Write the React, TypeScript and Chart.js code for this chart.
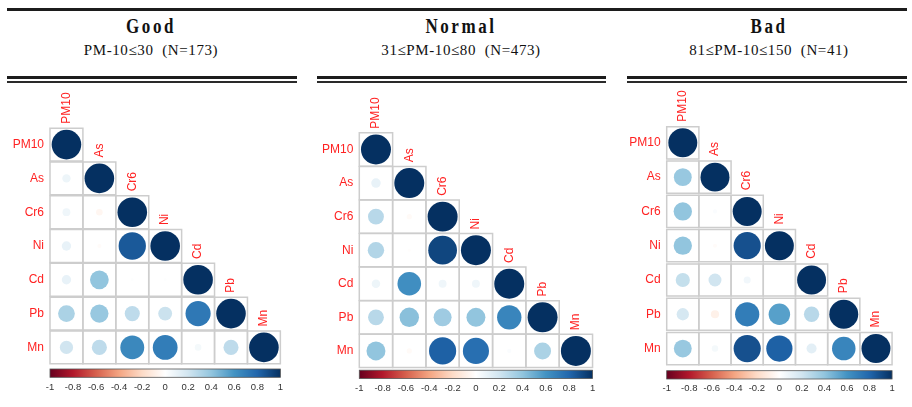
import React, { useEffect, useRef } from 'react';
import { Chart, registerables } from 'chart.js';

Chart.register(...registerables);

// ---------- data ----------
const VARIABLES = ['PM10', 'As', 'Cr6', 'Ni', 'Cd', 'Pb', 'Mn'];

// lower-triangle correlations, rows As..Mn, columns PM10..(row-1)
const GOOD_CORR = [
  [0.08],
  [0.07, -0.05],
  [0.1, -0.02, 0.85],
  [0.1, 0.4, 0.01, 0.01],
  [0.32, 0.38, 0.26, 0.22, 0.72],
  [0.2, 0.26, 0.65, 0.7, 0.05, 0.26],
];
const NORMAL_CORR = [
  [0.1],
  [0.28, -0.03],
  [0.3, -0.01, 0.92],
  [0.08, 0.62, 0.07, 0.07],
  [0.28, 0.42, 0.36, 0.4, 0.66],
  [0.4, -0.03, 0.82, 0.76, 0.02, 0.32],
];
const BAD_CORR = [
  [0.38],
  [0.4, 0.02],
  [0.4, -0.02, 0.88],
  [0.24, 0.2, 0.06, 0.0],
  [0.18, -0.08, 0.7, 0.55, 0.28],
  [0.38, 0.05, 0.88, 0.82, 0.12, 0.66],
];

const PANEL_TITLES = ['Good', 'Normal', 'Bad'];
const PANEL_SUBTITLES = ['PM-10≤30  (N=173)', '31≤PM-10≤80  (N=473)', '81≤PM-10≤150  (N=41)'];
const PANEL_DATA = [GOOD_CORR, NORMAL_CORR, BAD_CORR];

const COLORBAR_TICKS = [-1, -0.8, -0.6, -0.4, -0.2, 0, 0.2, 0.4, 0.6, 0.8, 1];
const COLORBAR_LABELS = ['-1', '-0.8', '-0.6', '-0.4', '-0.2', '0', '0.2', '0.4', '0.6', '0.8', '1'];

// ---------- styles / layout ----------
const RDBU = ['#67001F', '#B2182B', '#D6604D', '#F4A582', '#FDDBC7', '#FFFFFF', '#D1E5F0', '#92C5DE', '#4393C3', '#2166AC', '#053061'];
const LABEL_RED = '#ff2222';
const SANS = '"Liberation Sans", Arial, sans-serif';
const SERIF = '"Liberation Serif", "Times New Roman", serif';
const CANVAS_TOP = 85;
const CANVAS_HEIGHT = 322;

const PANEL_LAYOUT = [
  { left: 0, width: 300, gridLeft: 50, gridRight: 291, gridTop: 127.7, gridBottom: 364.3, barGap: 4.7, lineLeft: 7, lineRight: 297, titleCenter: 151 },
  { left: 305, width: 305, gridLeft: 359.3, gridRight: 601, gridTop: 132.7, gridBottom: 367.7, barGap: 2.5, lineLeft: 317, lineRight: 606, titleCenter: 461 },
  { left: 612, width: 300, gridLeft: 666.7, gridRight: 909.3, gridTop: 125.7, gridBottom: 365.7, barGap: 5, lineLeft: 627, lineRight: 907, titleCenter: 769 },
];

function hexToRgb(h: string) {
  const n = parseInt(h.slice(1), 16);
  return [(n >> 16) & 255, (n >> 8) & 255, n & 255];
}
function corrColor(v: number) {
  const t = ((v + 1) / 2) * (RDBU.length - 1);
  const i = Math.max(0, Math.min(RDBU.length - 2, Math.floor(t)));
  const f = t - i;
  const a = hexToRgb(RDBU[i]);
  const b = hexToRgb(RDBU[i + 1]);
  const c = a.map((x, k) => Math.round(x + (b[k] - x) * f));
  return `rgb(${c[0]},${c[1]},${c[2]})`;
}

function CorrPanel({ corr, layout }: { corr: number[][]; layout: any }) {
  const ref = useRef<HTMLCanvasElement>(null);
  useEffect(() => {
    const n = VARIABLES.length;
    const circles: any[] = [];
    const cells: any[] = [];
    for (let i = 0; i < n; i++) {
      for (let j = 0; j <= i; j++) {
        const v = i === j ? 1 : corr[i - 1][j];
        circles.push({ x: VARIABLES[j], y: VARIABLES[i], v });
        cells.push({ x: VARIABLES[j], y: VARIABLES[i] });
      }
    }
    const cellSize = (c: any) => {
      const a = c.chart.chartArea;
      if (!a) return { w: 0, h: 0 };
      return { w: (a.right - a.left) / n, h: (a.bottom - a.top) / n };
    };
    const barGap = layout.barGap;
    const barH = 8.3;

    const decor = {
      id: 'decor',
      afterDraw(chart: any) {
        const ctx = chart.ctx;
        const cb = chart.scales.cb;
        const xs = chart.scales.x;
        const ys = chart.scales.y;
        const top = chart.chartArea.bottom + barGap;
        ctx.save();
        const grad = ctx.createLinearGradient(cb.left, 0, cb.right, 0);
        RDBU.forEach((c, i) => grad.addColorStop(i / (RDBU.length - 1), c));
        ctx.fillStyle = grad;
        ctx.fillRect(cb.left, top, cb.right - cb.left, barH);
        ctx.strokeStyle = '#555';
        ctx.lineWidth = 0.8;
        ctx.strokeRect(cb.left, top, cb.right - cb.left, barH);
        const ch = (ys.bottom - ys.top) / n;
        ctx.fillStyle = LABEL_RED;
        ctx.font = `12px ${SANS}`;
        ctx.textAlign = 'left';
        ctx.textBaseline = 'middle';
        VARIABLES.forEach((lab, j) => {
          const x = xs.getPixelForValue(j);
          const y = ys.getPixelForValue(j) - ch / 2 - 4;
          ctx.save();
          ctx.translate(x, y);
          ctx.rotate(-Math.PI / 2);
          ctx.fillText(lab, 0, 0);
          ctx.restore();
        });
        ctx.restore();
      },
    };

    const chart = new Chart(ref.current as HTMLCanvasElement, {
      type: 'scatter',
      data: {
        datasets: [
          {
            data: circles,
            xAxisID: 'x',
            yAxisID: 'y',
            clip: false,
            pointStyle: 'circle',
            pointRadius: (c: any) => {
              if (!c.raw) return 0;
              const s = cellSize(c);
              return 0.45 * Math.min(s.w, s.h) * Math.sqrt(Math.abs(c.raw.v));
            },
            pointBackgroundColor: (c: any) => (c.raw ? corrColor(c.raw.v) : '#fff'),
            pointBorderWidth: 0,
            pointBorderColor: 'rgba(0,0,0,0)',
          } as any,
          {
            data: cells,
            xAxisID: 'x',
            yAxisID: 'y',
            clip: false,
            pointStyle: 'rect',
            pointRadius: (c: any) => cellSize(c).w / (2 * Math.SQRT1_2),
            pointBackgroundColor: 'rgba(0,0,0,0)',
            pointBorderColor: '#cdcdcd',
            pointBorderWidth: 1.5,
          } as any,
        ],
      },
      options: {
        animation: false,
        responsive: false,
        events: [],
        layout: {
          padding: {
            top: layout.gridTop - CANVAS_TOP,
            right: layout.left + layout.width - layout.gridRight,
            left: 0,
            bottom: 0,
          },
        },
        plugins: { legend: { display: false }, tooltip: { enabled: false } },
        scales: {
          x: { type: 'category', labels: VARIABLES, offset: true, display: false },
          y: {
            type: 'category',
            labels: VARIABLES,
            offset: true,
            position: 'left',
            grid: { display: false, drawTicks: false },
            border: { display: false },
            ticks: { color: LABEL_RED, font: { size: 12, family: SANS }, padding: 6, autoSkip: false },
            afterFit: (s: any) => {
              s.width = layout.gridLeft - layout.left;
            },
          },
          cb: {
            type: 'linear',
            axis: 'x',
            position: 'bottom',
            min: -1,
            max: 1,
            grid: { display: false, drawTicks: false },
            border: { display: false },
            ticks: {
              color: '#333',
              font: { size: 9.5, family: SANS },
              padding: barGap + 12.3,
              autoSkip: false,
              maxRotation: 0,
              callback: (_v: any, idx: number) => COLORBAR_LABELS[idx],
            },
            afterBuildTicks: (s: any) => {
              s.ticks = COLORBAR_TICKS.map((value) => ({ value }));
            },
            afterFit: (s: any) => {
              s.height = CANVAS_TOP + CANVAS_HEIGHT - layout.gridBottom;
            },
          } as any,
        },
      },
      plugins: [decor],
    } as any);
    return () => chart.destroy();
  }, [corr, layout]);

  return (
    <canvas
      ref={ref}
      width={layout.width}
      height={CANVAS_HEIGHT}
      style={{ position: 'absolute', left: layout.left, top: CANVAS_TOP, width: layout.width, height: CANVAS_HEIGHT }}
    />
  );
}

export default function App() {
  return (
    <div style={{ position: 'absolute', left: 0, top: 0, width: 912, height: 407, background: '#fff', overflow: 'hidden' }}>
      <div style={{ position: 'absolute', left: 7, top: 8, width: 900, height: 3, background: '#1c1c1c' }} />
      {PANEL_LAYOUT.map((L, k) => (
        <React.Fragment key={k}>
          <div
            style={{
              position: 'absolute',
              left: L.titleCenter - 100,
              width: 200,
              top: 14,
              height: 24,
              lineHeight: '24px',
              textAlign: 'center',
              fontFamily: SERIF,
              fontWeight: 'bold',
              fontSize: 20,
              letterSpacing: '3px',
              transform: 'scaleX(0.85)',
              color: '#111',
              whiteSpace: 'pre',
            }}
          >
            {PANEL_TITLES[k]}
          </div>
          <div
            style={{
              position: 'absolute',
              left: L.titleCenter - 120,
              width: 240,
              top: 41,
              height: 18,
              lineHeight: '18px',
              textAlign: 'center',
              fontFamily: SERIF,
              fontSize: 15,
              letterSpacing: '0.6px',
              color: '#111',
              whiteSpace: 'pre',
            }}
          >
            {PANEL_SUBTITLES[k]}
          </div>
          <div style={{ position: 'absolute', left: L.lineLeft, top: 76, width: L.lineRight - L.lineLeft, height: 3, background: '#1c1c1c' }} />
          <div style={{ position: 'absolute', left: L.lineLeft, top: 81, width: L.lineRight - L.lineLeft, height: 2, background: '#2a2a2a' }} />
          <CorrPanel corr={PANEL_DATA[k]} layout={L} />
        </React.Fragment>
      ))}
    </div>
  );
}
